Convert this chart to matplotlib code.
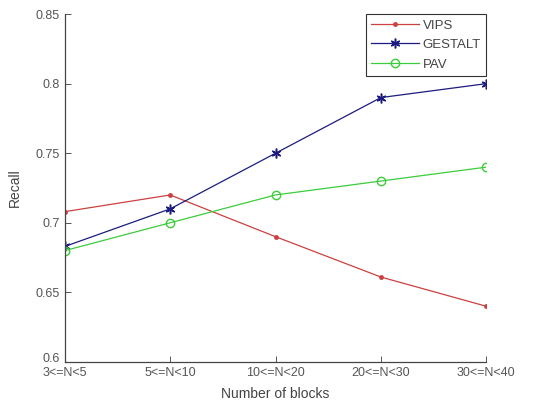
import matplotlib
matplotlib.use('Agg')
import matplotlib.pyplot as plt
from matplotlib.transforms import ScaledTranslation

# data
categories = ['3<=N<5', '5<=N<10', '10<=N<20', '20<=N<30', '30<=N<40']
vips = [0.708, 0.720, 0.690, 0.661, 0.640]
gestalt = [0.683, 0.710, 0.750, 0.790, 0.800]
pav = [0.680, 0.700, 0.720, 0.730, 0.740]
yticks = [0.6, 0.65, 0.7, 0.75, 0.8, 0.85]
ytick_labels = ['0.6', '0.65', '0.7', '0.75', '0.8', '0.85']

plt.rcParams['font.family'] = ['Liberation Sans', 'DejaVu Sans']

fig = plt.figure(figsize=(5.5, 4.03), dpi=100)
ax = fig.add_axes([0.118, 0.102, 0.766, 0.863])

x = range(len(categories))
ax.plot(x, vips, color='#cc4040', marker='.', markersize=5, linewidth=0.9, label='VIPS')
ax.plot(x, gestalt, color='#1c1c80', marker=(6, 2, 0), markersize=7, markeredgewidth=1.1,
        linewidth=0.9, label='GESTALT')
ax.plot(x, pav, color='#3ccc3c', marker='o', markersize=6, markerfacecolor='none',
        linewidth=0.9, label='PAV')

ax.set_xlim(0, len(categories) - 1)
ax.set_ylim(0.6, 0.85)
ax.set_xticks(list(x))
ax.set_xticklabels(categories)
ax.set_yticks(yticks)
ax.set_yticklabels(ytick_labels)
ax.tick_params(direction='in', labelsize=9, colors='#555555', length=4, width=0.7)
# nudge the lowest y label up a little, like the reference
ylabels = ax.get_yticklabels()
ylabels[0].set_transform(ylabels[0].get_transform() +
                         ScaledTranslation(0, 4 / 100, fig.dpi_scale_trans))
for side in ['top', 'right']:
    ax.spines[side].set_visible(False)
for side in ['left', 'bottom']:
    ax.spines[side].set_color('#444444')
    ax.spines[side].set_linewidth(0.9)

ax.set_xlabel('Number of blocks', fontsize=10, color='#444444', labelpad=6)
ax.set_ylabel('Recall', fontsize=10, color='#444444', labelpad=10)

leg = ax.legend(loc='upper right', fontsize=9.5, fancybox=False, framealpha=1,
                edgecolor='#333333', borderaxespad=0, handlelength=3.6,
                labelspacing=0.55, handletextpad=0.3, borderpad=0.4)
leg.get_frame().set_linewidth(0.8)
for t in leg.get_texts():
    t.set_color('#444444')

fig.savefig('out.png', dpi=100)
